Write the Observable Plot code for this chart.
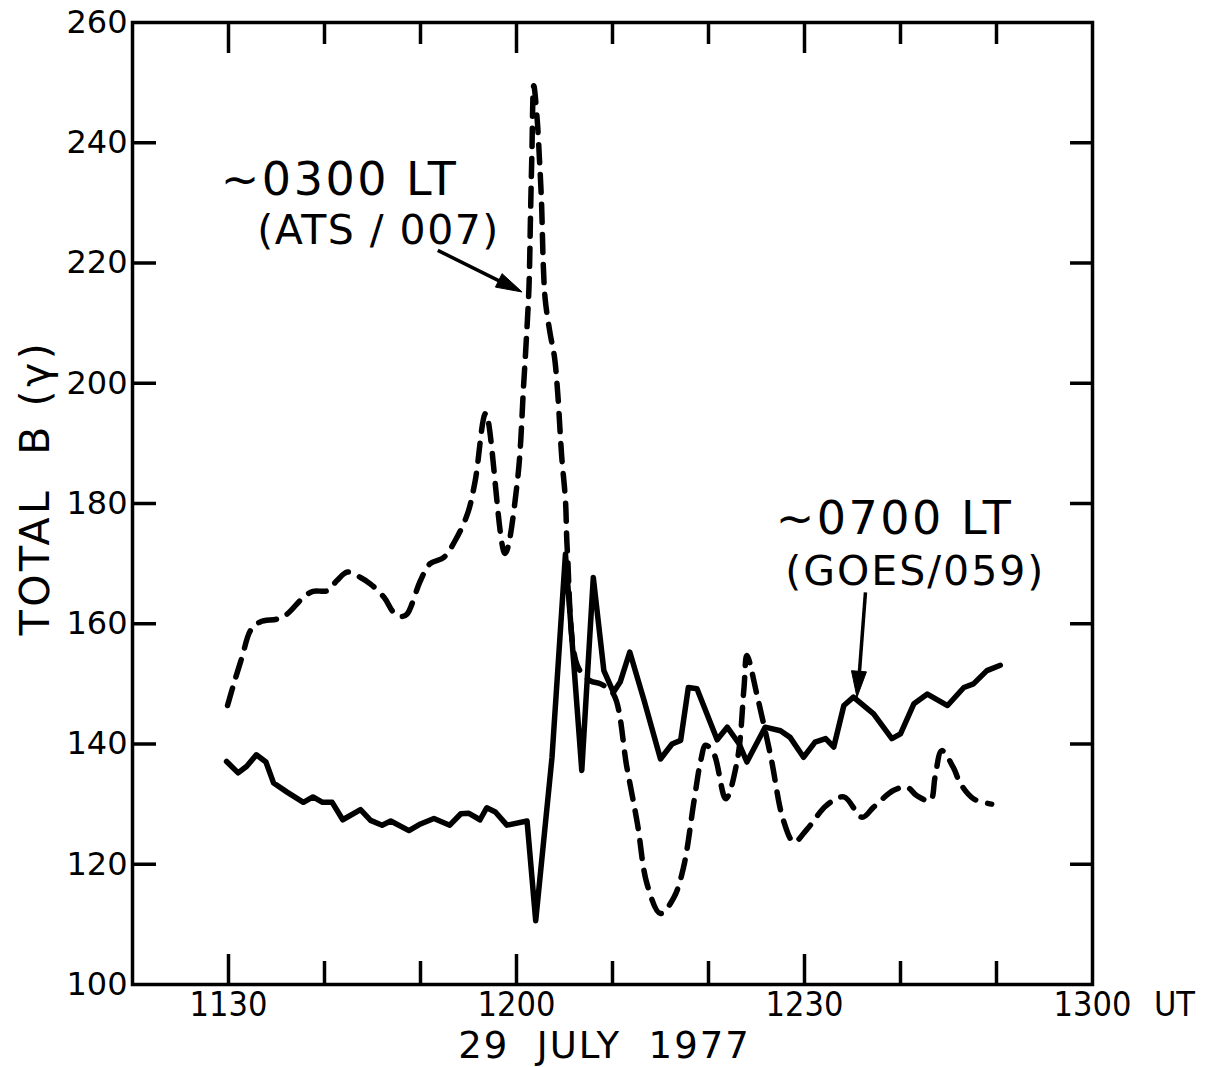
<!DOCTYPE html>
<html><head><meta charset="utf-8">
<script src="https://cdn.jsdelivr.net/npm/d3@7"></script>
<script src="https://cdn.jsdelivr.net/npm/@observablehq/plot@0.6"></script>
<style>
html,body{margin:0;padding:0;background:#fff;}
#chart svg{display:block;}
</style>
</head><body><div id="chart"></div>
<script>
// Time axis: minutes after 1100 UT, 29 July 1977
const goesMinutes = [29.8,31.0,31.9,32.9,33.9,34.7,36.1,37.8,38.8,39.8,40.8,41.9,43.75,44.8,46.0,46.9,48.8,50.0,51.4,53.05,54.2,55.0,56.2,56.9,57.8,59.0,61.1,62.0,63.7,65.1,65.97,66.8,68.0,69.1,70.1,70.8,71.8,73.3,75.0,76.2,77.1,77.9,78.8,80.9,81.95,83.2,84.0,85.9,87.5,88.5,89.9,91.1,92.2,93.05,94.1,95.1,97.2,99.1,100.0,101.4,102.8,104.9,106.6,107.6,109.0,110.4];
const goesB = [137.1,135.2,136.3,138.2,137.0,133.5,132.0,130.3,131.2,130.3,130.3,127.4,129.1,127.3,126.5,127.2,125.6,126.7,127.6,126.5,128.4,128.5,127.4,129.4,128.7,126.5,127.2,110.6,137.8,171.6,153.3,135.6,167.7,152.2,148.6,150.3,155.3,147.2,137.5,140.0,140.6,149.4,149.2,140.7,142.8,140.0,137.0,142.8,142.2,141.1,137.8,140.3,140.9,139.5,146.4,147.8,145.0,140.9,141.7,146.7,148.3,146.4,149.4,150.0,152.2,153.1];

const atsMinutes = [29.9,30.55,31.4,32.3,33.3,35.1,36.1,37.8,38.8,40.3,41.3,42.4,43.75,44.8,46.2,47.2,48.1,48.6,50.0,51.0,52.4,53.6,54.9,55.7,56.8,58.8,60.1,60.75,61.0,61.3,61.46,61.6,61.8,62.15,62.4,62.6,62.8,63.0,63.5,63.96,64.3,64.7,65.1,65.3,66.35,67.7,68.75,70.1,71.5,72.6,73.6,75.0,76.4,77.4,78.5,79.2,79.7,80.55,81.8,83.0,83.7,84.0,85.1,86.5,87.8,88.9,90.3,92.3,94.1,96.0,97.2,99.3,100.7,101.7,103.1,103.6,104.3,105.5,106.25,107.6,109.5];
const atsB = [146.4,150,154.4,158.9,160.3,160.8,161.6,164.4,165.4,165.5,167.2,168.6,167.7,166.6,164.4,161.9,161.2,161.6,167.2,170,171,173.8,178.3,183.8,195,171.7,183.8,199.9,206.6,216,228,238,249.5,244,237,230.4,219.3,213.8,208.3,204.3,198.2,188,180.5,172,153,150.5,150,148.3,136.1,126.7,116.7,111.8,114.5,119.5,130.6,137.3,139.8,138.4,130.9,137.3,149.4,154.7,147.8,137.8,127.3,123.7,125.9,129.8,131.2,127.8,129.5,132.3,132.8,131.4,130.6,134.5,138.9,136.1,133.4,130.9,130.0];

const yTicks = [120,140,160,180,200,220,240];
const yTickLabels = [100,120,140,160,180,200,220,240,260];
const xMajorTicks = [30,60,90];
const xMinorTicks = [40,50,70,80,100,110];
const xLabelPos = [30,60,90,120];
const xTickLabels = ["1130","1200","1230","1300"];
const xTitle = "29  JULY  1977";
const yTitle = "TOTAL  B (\u03b3)";

const noteText = ["~0300 LT","(ATS / 007)","~0700 LT","(GOES/059)"];
const noteX = [29.2,33.0,87.0,88.0];
const noteY = [233.8,225.3,177.4,168.6];
const noteSize = [46,41,46,41];

const arrowFromX = [51.8,96.35];
const arrowFromY = [222.1,165.2];
const arrowToX = [60.63,95.52];
const arrowToY = [215.1,147.7];

const goes = goesMinutes.map((m,i)=>({m, b: goesB[i]}));
const ats = atsMinutes.map((m,i)=>({m, b: atsB[i]}));
const notes = noteText.map((t,i)=>({t, x: noteX[i], y: noteY[i], s: noteSize[i]}));
const arrows = arrowFromX.map((x1,i)=>({x1, y1: arrowFromY[i], x2: arrowToX[i], y2: arrowToY[i]}));
const xLabels = xLabelPos.map((x,i)=>({x, t: xTickLabels[i]}));

// letter spacing per text (style only)
const spacing = new Map([
  [noteText[0], 2.5], [noteText[1], 1.5], [noteText[2], 2.5], [noteText[3], 2],
  [xTitle, 2], [yTitle, 3.5]
]);

const W = 1205, H = 1067;
const mL = 132, mR = 113, mT = 22, mB = 83;
const fw = W - mL - mR, fh = H - mT - mB;

const FONT = "'DejaVu Sans', sans-serif";
const FONTC = "'DejaVu Sans Condensed', 'DejaVu Sans', sans-serif";

function arrowHeads(index, scales) {
  const sx = scales.x, sy = scales.y;
  const g = d3.create("svg:g");
  for (const a of arrows) {
    const x1 = sx(a.x1), y1 = sy(a.y1), x2 = sx(a.x2), y2 = sy(a.y2);
    const ang = Math.atan2(y2 - y1, x2 - x1);
    const L = 26, hw = 7.5;
    const bx = x2 - L*Math.cos(ang), by = y2 - L*Math.sin(ang);
    const px = -Math.sin(ang)*hw, py = Math.cos(ang)*hw;
    g.append("path")
      .attr("d", `M${x2},${y2}L${bx+px},${by+py}L${bx-px},${by-py}Z`)
      .attr("fill", "#000").attr("stroke", "#000").attr("stroke-width", 1);
  }
  return g.node();
}

const chart = Plot.plot({
  width: W, height: H,
  marginLeft: mL, marginRight: mR, marginTop: mT, marginBottom: mB,
  style: {background: "#fff", color: "#000", fontFamily: FONT},
  x: {domain: [20,120], axis: null},
  y: {domain: [100,260], axis: null},
  marks: [
    Plot.frame({stroke: "#000", strokeWidth: 3.5}),
    // inward ticks
    Plot.tickY(yTicks, {y: d=>d, insetRight: fw - 24, stroke: "#000", strokeWidth: 3.5}),
    Plot.tickY(yTicks, {y: d=>d, insetLeft: fw - 22, stroke: "#000", strokeWidth: 3.5}),
    Plot.tickX(xMajorTicks, {x: d=>d, insetBottom: fh - 31, stroke: "#000", strokeWidth: 3.5}),
    Plot.tickX(xMinorTicks, {x: d=>d, insetBottom: fh - 22, stroke: "#000", strokeWidth: 3.5}),
    Plot.tickX(xMajorTicks, {x: d=>d, insetTop: fh - 30, stroke: "#000", strokeWidth: 3.5}),
    Plot.tickX(xMinorTicks, {x: d=>d, insetTop: fh - 23, stroke: "#000", strokeWidth: 3.5}),
    // tick labels
    Plot.text(yTickLabels, {y: d=>d, text: d=>String(d), frameAnchor: "left", textAnchor: "end", dx: -5, fontSize: 32, fontFamily: FONT, lineAnchor: "middle", fill: "#000"}),
    Plot.text(xLabels, {x: "x", text: "t", frameAnchor: "bottom", lineAnchor: "top", dy: 7, fontSize: 34, fontFamily: FONTC, fill: "#000"}),
    Plot.text(["UT"], {x: () => 120, text: d=>d, frameAnchor: "bottom", lineAnchor: "top", dy: 7, dx: 82, fontSize: 34, fontFamily: FONTC, fill: "#000"}),
    Plot.text([xTitle], {text: d=>d, frameAnchor: "bottom", lineAnchor: "middle", dy: 62, dx: -8, fontSize: 37, fontFamily: FONT, fill: "#000"}),
    Plot.text([yTitle], {text: d=>d, frameAnchor: "left", textAnchor: "middle", rotate: -90, dx: -97, dy: -16, fontSize: 41, fontFamily: FONT, fill: "#000"}),
    // data
    Plot.line(ats, {x: "m", y: "b", stroke: "#000", strokeWidth: 5.5, strokeDasharray: "18,12", strokeLinecap: "round", strokeLinejoin: "round", curve: "catmull-rom"}),
    Plot.line(goes, {x: "m", y: "b", stroke: "#000", strokeWidth: 5.5, strokeLinecap: "round", strokeLinejoin: "round"}),
    // annotations
    Plot.text(notes, {x: "x", y: "y", text: "t", textAnchor: "start", lineAnchor: "middle", fontSize: d=>d.s, fontFamily: FONT, fill: "#000"}),
    Plot.arrow(arrows, {x1: "x1", y1: "y1", x2: "x2", y2: "y2", headLength: 0, insetEnd: 16, stroke: "#000", strokeWidth: 3.5, strokeLinecap: "butt"}),
    arrowHeads
  ]
});
d3.select(chart).selectAll("text").each(function() {
  const t = this.textContent;
  if (spacing.has(t)) this.setAttribute("letter-spacing", spacing.get(t));
});
document.getElementById("chart").appendChild(chart);
</script>
</body></html>
